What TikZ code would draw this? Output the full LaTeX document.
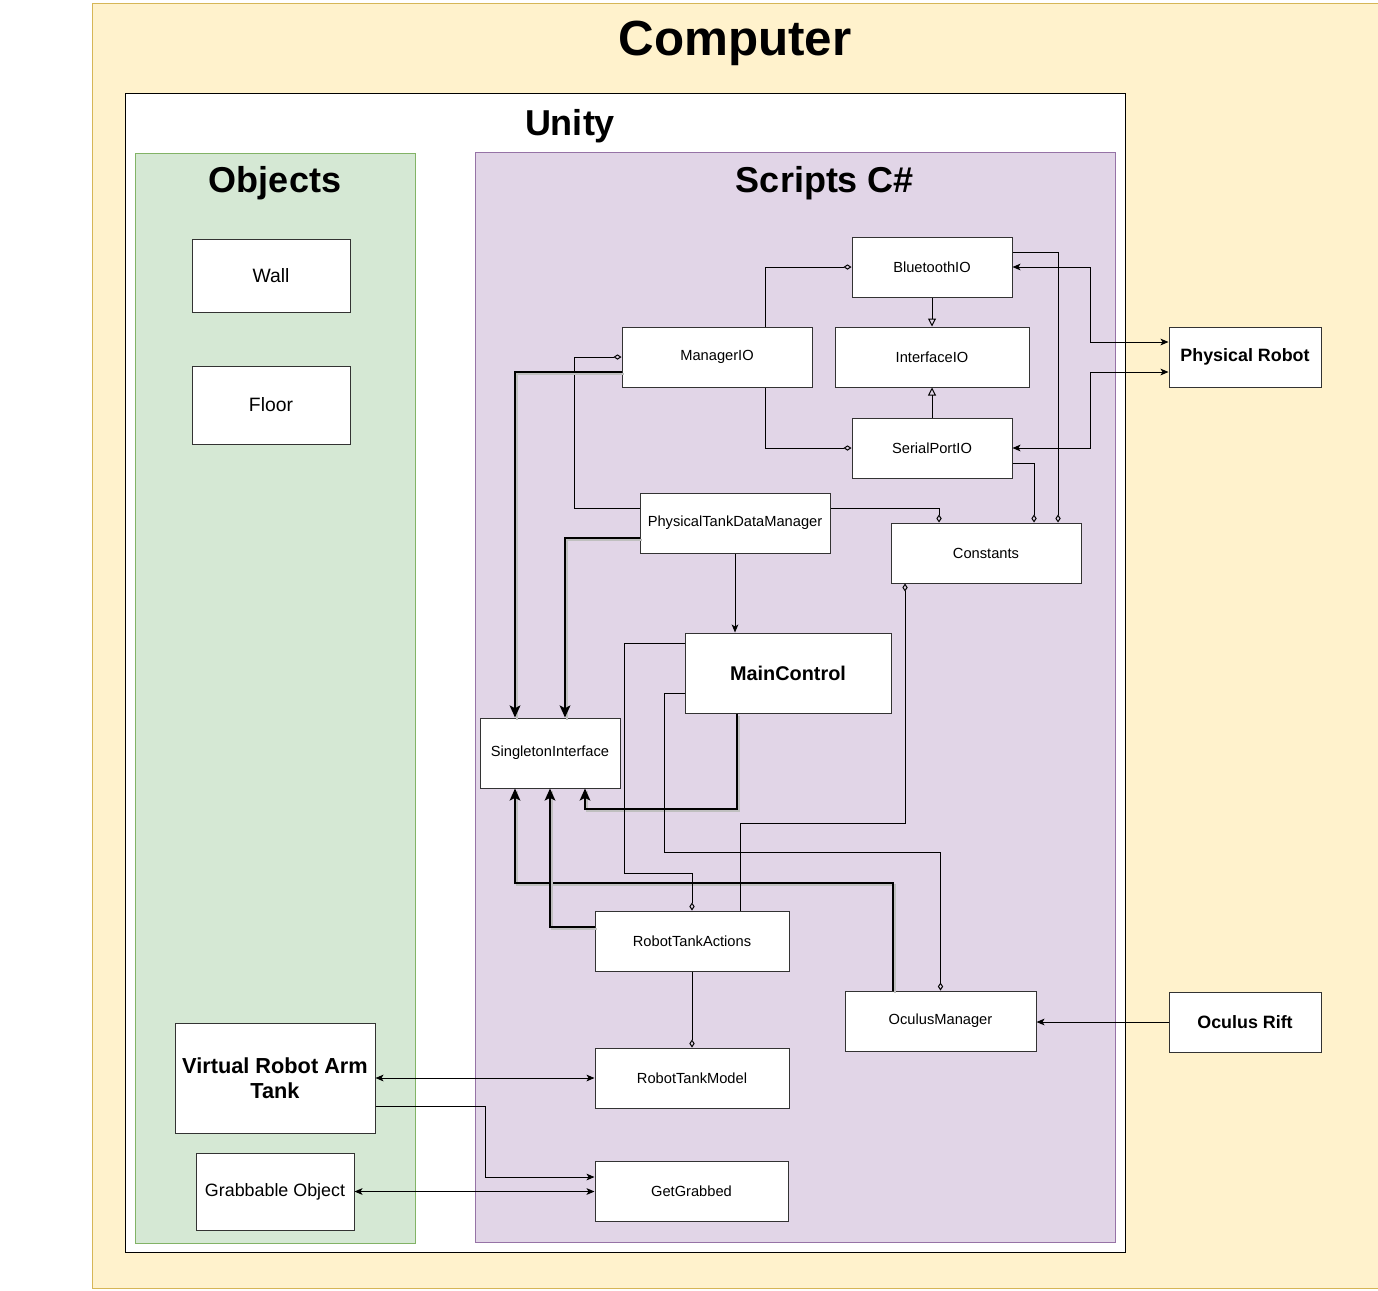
\documentclass[tikz,border=0pt]{standalone}
\usepackage{fontspec}
\setmainfont{Liberation Sans}
\usetikzlibrary{arrows.meta,calc}

\definecolor{compfill}{HTML}{FFF2CC}
\definecolor{compline}{HTML}{D6B656}
\definecolor{objfill}{HTML}{D5E8D4}
\definecolor{objline}{HTML}{82B366}
\definecolor{scrfill}{HTML}{E1D5E7}
\definecolor{scrline}{HTML}{9673A6}

\begin{document}
\begin{tikzpicture}[
    x=0.75pt, y=-0.75pt,
    box/.style={rectangle, draw=black!80, fill=white, inner sep=0pt, line width=0.75pt, align=center, font=\fontsize{11}{13}\selectfont},
    sz/.style 2 args={minimum width=#1*0.75pt, minimum height=#2*0.75pt},
    bigtitle/.style={font=\fontsize{#1}{#1}\selectfont\bfseries},
    arr/.style={-{Stealth[length=6pt, width=5pt, inset=1.5pt]}, line width=0.75pt},
    dbl/.style={{Stealth[length=6pt, width=5pt, inset=1.5pt]}-{Stealth[length=6pt, width=5pt, inset=1.5pt]}, line width=0.75pt},
    thickarr/.style={-{Stealth[length=9pt, width=8pt, inset=2pt]}, line width=1.5pt,
        preaction={draw=black!25, -, line width=1.5pt, transform canvas={shift={(1.5pt,-1.5pt)}}}},
    agg/.style={-{Diamond[open, length=6pt, width=4pt]}, line width=0.75pt},
    aggstart/.style={{Diamond[open, length=6pt, width=4pt]}-, line width=0.75pt},
    inh/.style={-{Triangle[open, length=6pt, width=6pt]}, line width=0.75pt}
]
    \useasboundingbox (0,0) rectangle (1378,1290);

    % containers
    \draw[draw=compline, fill=compfill, line width=0.75pt] (92,3) rectangle (1378,1288);
    \draw[fill=white, line width=0.75pt] (125,93) rectangle (1125,1252);
    \draw[draw=objline, fill=objfill, line width=0.75pt] (135,153) rectangle (415,1243);
    \draw[draw=scrline, fill=scrfill, line width=0.75pt] (475,152) rectangle (1115,1242);

    \node[bigtitle=37] (comptitle) at (735,43) {Computer};
    \node[bigtitle=27] (unitytitle) at (570,126) {Unity};
    \node[bigtitle=27] (objtitle) at (275,183) {Objects};
    \node[bigtitle=27] (scrtitle) at (825,183) {Scripts C\#};

    % objects
    \node[box, sz={158}{73}, font=\fontsize{14.5}{17}\selectfont] (wall) at (271,275.5) {Wall};
    \node[box, sz={158}{78}, font=\fontsize{14.5}{17}\selectfont] (floor) at (271,405) {Floor};
    \node[box, sz={200}{110}, font=\fontsize{16.3}{19}\selectfont\bfseries] (vrat) at (275,1078) {Virtual Robot Arm\\Tank};
    \node[box, sz={158}{77}, font=\fontsize{13.4}{16}\selectfont] (grab) at (275,1191.5) {Grabbable Object};

    % scripts
    \node[box, sz={160}{60}] (bt) at (932,267) {BluetoothIO};
    \node[box, sz={194}{60}] (ifc) at (932,357) {InterfaceIO};
    \node[box, sz={160}{60}] (sp) at (932,448) {SerialPortIO};
    \node[box, sz={190}{60}] (mgr) at (717,357) {ManagerIO};
    \node[box, sz={190}{60}] (ptdm) at (735,523) {PhysicalTankDataManager};
    \node[box, sz={190}{60}] (const) at (986,553) {Constants};
    \node[box, sz={206}{80}, font=\fontsize{14.9}{17}\selectfont\bfseries] (main) at (788,673) {MainControl};
    \node[box, sz={140}{70}] (single) at (550,753) {SingletonInterface};
    \node[box, sz={194}{60}] (rta) at (692,941) {RobotTankActions};
    \node[box, sz={191}{60}] (om) at (940.5,1021) {OculusManager};
    \node[box, sz={194}{60}] (rtm) at (692,1078) {RobotTankModel};
    \node[box, sz={193}{60}] (gg) at (691.5,1191) {GetGrabbed};

    % hardware
    \node[box, sz={152}{60}, font=\fontsize{13.4}{16}\selectfont\bfseries] (pr) at (1245,357) {Physical Robot};
    \node[box, sz={152}{60}, font=\fontsize{13.4}{16}\selectfont\bfseries] (rift) at (1245,1022) {Oculus Rift};

    % IO classes
    \draw[agg] ($(mgr.north)+(48,0)$) |- (bt.west);
    \draw[agg] ($(mgr.south)+(48,0)$) |- (sp.west);
    \draw[inh] (bt) -- (ifc);
    \draw[inh] (sp) -- (ifc);
    \draw[agg] ($(bt.east)+(0,-15)$) -| ($(const.north)+(72,0)$);
    \draw[agg] ($(sp.east)+(0,15)$) -| ($(const.north)+(48,0)$);
    \draw[agg] ($(ptdm.east)+(0,-15)$) -| ($(const.north)+(-47,0)$);
    \draw[agg] ($(ptdm.west)+(0,-15)$) -- ++(-65,0) |- (mgr.west);
    \draw[dbl] (bt.east) -- ++(78,0) |- ($(pr.west)+(0,-15)$);
    \draw[dbl] (sp.east) -- ++(78,0) |- ($(pr.west)+(0,15)$);

    % singleton
    \draw[thickarr] ($(mgr.west)+(0,15)$) -| ($(single.north)+(-35,0)$);
    \draw[thickarr] ($(ptdm.west)+(0,15)$) -| ($(single.north)+(15,0)$);
    \draw[thickarr] ($(main.south)+(-51,0)$) -- ++(0,95) -| ($(single.south)+(35,0)$);
    \draw[thickarr] ($(om.north)+(-47.5,0)$) -- ++(0,-108) -| ($(single.south)+(-35,0)$);
    \draw[thickarr] ($(rta.west)+(0,-14)$) -| (single.south);

    % control
    \draw[arr] (ptdm.south) -- (ptdm.south |- main.north);
    \draw[agg] ($(main.west)+(0,-30)$) -- ++(-60,0) -- ++(0,230) -| (rta.north);
    \draw[agg] ($(main.west)+(0,20)$) -- ++(-20,0) -- ++(0,159) -| (om.north);
    \draw[aggstart] ($(const.south)+(-81,0)$) -- ++(0,240) -| ($(rta.north)+(48,0)$);
    \draw[agg] (rta) -- (rtm);
    \draw[arr] (rift.west) -- (rift.west -| om.east);

    % objects to scripts
    \draw[dbl] (vrat.east) -- (rtm.west);
    \draw[arr] ($(vrat.east)+(0,28)$) -- ++(110,0) |- ($(gg.west)+(0,-14)$);
    \draw[dbl] (grab.east) -- (grab.east -| gg.west);
\end{tikzpicture}
\end{document}
